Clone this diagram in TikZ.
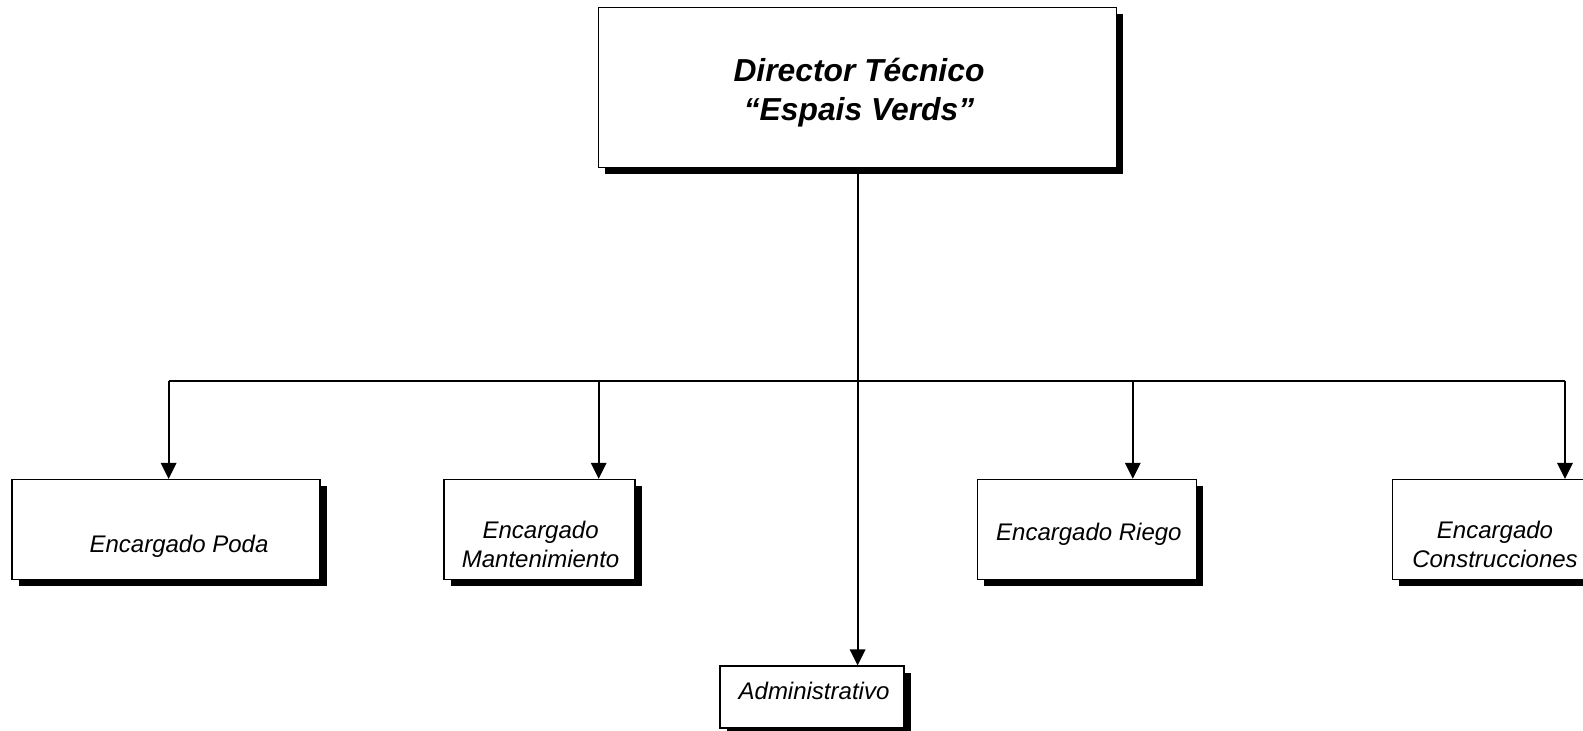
\documentclass[tikz,border=0pt]{standalone}
\usepackage{fontspec}
\setmainfont{Liberation Sans}
\usetikzlibrary{arrows.meta,shadows}
\begin{document}
\begin{tikzpicture}[x=1pt,y=-1pt,
  box/.style={draw, line width=1.3pt, fill=white, inner sep=0pt,
    drop shadow={shadow xshift=6.5pt,shadow yshift=-6.5pt,fill=black,opacity=1}},
  lab/.style={font=\fontsize{24}{28.3}\selectfont\itshape, align=center, inner sep=0pt},
  ttl/.style={font=\fontsize{31.8}{38.4}\selectfont\bfseries\itshape, align=center, inner sep=0pt},
  conn/.style={line width=1.8pt},
  arr/.style={conn,-{Triangle[width=15.5pt,length=16pt]}}]
\useasboundingbox[fill=white] (0,0) rectangle (1583,731);

% boxes
\node[box, minimum width=518pt, minimum height=160pt] (dir) at (857.6,87.3) {};
\node[box, minimum width=308pt, minimum height=100pt] (poda) at (166,529.5) {};
\node[box, minimum width=191pt, minimum height=100pt] (mant) at (539.6,529.5) {};
\node[box, minimum width=219pt, minimum height=100pt] (riego) at (1086.8,529.5) {};
\node[box, minimum width=200pt, minimum height=100pt] (constr) at (1492.7,529.5) {};
\node[box, minimum width=184pt, minimum height=62pt] (adm) at (812,697) {};

% texts
\node[ttl] (dirt) at (859,92.5) {Director Técnico\\“Espais Verds”};
\node[lab] (podat) at (179,546) {Encargado Poda};
\node[lab] (mantt) at (540.6,544.5) {Encargado\\Mantenimiento};
\node[lab] (riegot) at (1088.9,534) {Encargado Riego};
\node[lab] (constrt) at (1495,544.5) {Encargado\\Construcciones};
\node[lab] (admt) at (814,691) {Administrativo};

% connectors
\coordinate (bl) at (168.6,380.6);
\coordinate (bm) at (598.7,380.6);
\coordinate (br) at (1132.8,380.6);
\coordinate (bc) at (1565,380.6);
\draw[conn] (bl) -- (bc);
\draw[arr] (dir.south) -- (dir.south |- adm.north);
\draw[arr] (bl) -- (bl |- poda.north);
\draw[arr] (bm) -- (bm |- mant.north);
\draw[arr] (br) -- (br |- riego.north);
\draw[arr] (bc) -- (bc |- constr.north);
\end{tikzpicture}
\end{document}
